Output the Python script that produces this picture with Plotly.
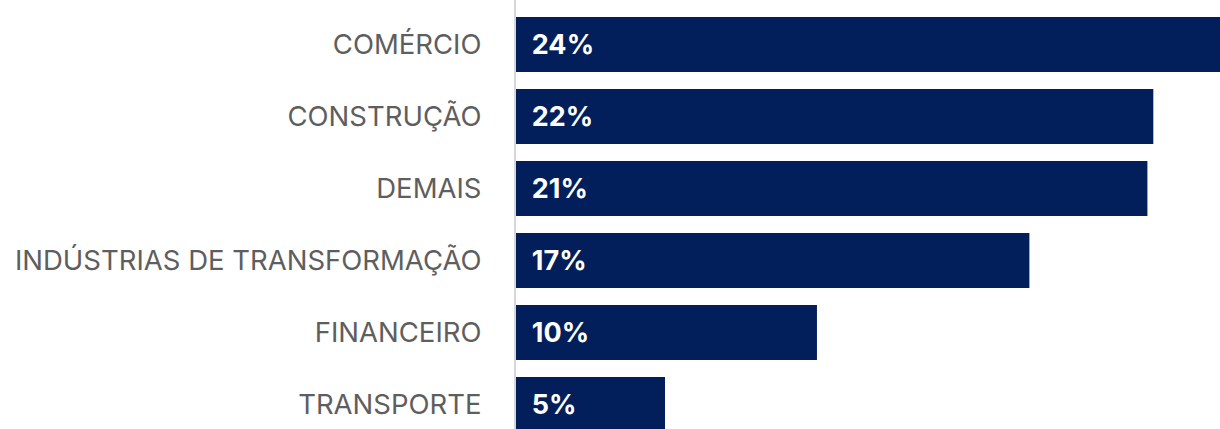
import plotly.graph_objects as go

# sector share, largest first
SECTORS = ["COMÉRCIO", "CONSTRUÇÃO", "DEMAIS", "INDÚSTRIAS DE TRANSFORMAÇÃO",
           "FINANCEIRO", "TRANSPORTE"]
SHARES = [24.0, 21.6, 21.4, 17.4, 10.2, 5.05]
LABELS = ["24%", "22%", "21%", "17%", "10%", "5%"]

NAVY = "#021F5C"
GREY = "#5E5E5E"
FONT = "Inter, 'Noto Sans', sans-serif"

fig = go.Figure(go.Bar(
    x=SHARES, y=SECTORS, orientation="h",
    marker=dict(color=NAVY, line=dict(width=0)),
    text=["\u00a0\u00a0" + t for t in LABELS],
    textposition="inside", insidetextanchor="start",
    textfont=dict(family=FONT, size=27, color="white", weight="bold"),
    cliponaxis=True,
    hoverinfo="skip",
))

fig.update_layout(
    width=1220, height=429, template=None,
    paper_bgcolor="white", plot_bgcolor="white",
    margin=dict(l=516, r=0, t=0, b=0, pad=0),
    bargap=0.236, showlegend=False,
)
fig.update_xaxes(range=[0, 23.86], visible=False, fixedrange=True)
fig.update_yaxes(
    type="category", range=[5.34, -0.618], automargin=False, fixedrange=True,
    showline=True, linecolor="#D6D6D6", linewidth=2, showgrid=False, zeroline=False,
    ticks="", ticklabelstandoff=27,
    tickfont=dict(family=FONT, size=27.5, color=GREY),
)

# page body has a default 8px margin; drop it so the figure sits at the window corner
fig.write_html("out.html", config=dict(displayModeBar=False, staticPlot=True),
               post_script="document.body.style.margin='0';"
                           "document.body.style.overflow='hidden';")
